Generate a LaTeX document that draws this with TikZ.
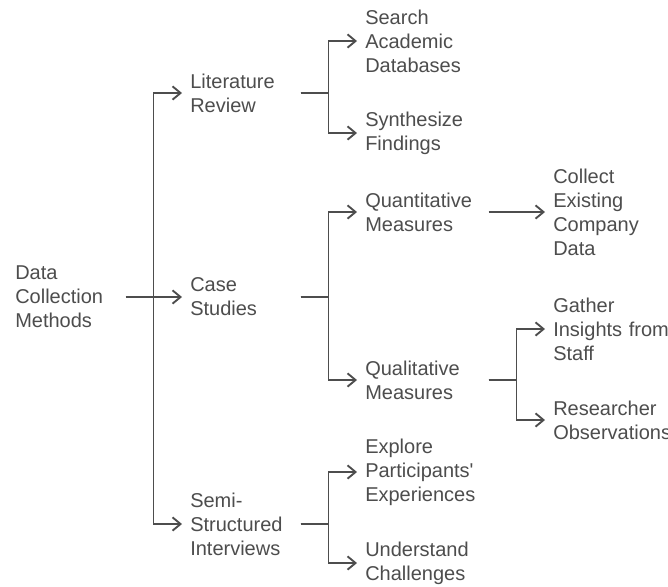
\documentclass[tikz,border=0pt]{standalone}
\usepackage{fontspec}
\setmainfont{Liberation Sans}
\usetikzlibrary{arrows.meta,calc}
\definecolor{ink}{HTML}{4D4D4D}

\begin{document}
\begin{tikzpicture}[x=0.75pt,y=-0.75pt,
		every node/.style={inner sep=0pt,anchor=west,align=left,text=ink,font=\fontsize{15}{18}\selectfont},
		rootnode/.style={text width=82.5pt},
		midnode/.style={text width=82.5pt},
		subnode/.style={text width=92.25pt},
		leafnode/.style={text width=100pt},
		link/.style={draw=ink,line width=1.4pt,-{Straight Barb[length=6pt,width=10pt,line width=1.4pt]},shorten >=6pt}]
	\useasboundingbox (0,0) rectangle (668,586);
	\clip (0,0) rectangle (668,586);
	\fill [white] (0,0) rectangle (668,586);
	% level 0
	\node [rootnode] (data) at (15,297) {Data\\Collection\\Methods};
	% level 1
	\node [midnode] (lit) at (190,93) {Literature\\Review};
	\node [midnode] (case) at (190,297) {Case\\Studies};
	\node [midnode] (semi) at (190,524) {Semi-\\Structured\\Interviews};
	% level 2
	\node [subnode] (search) at (365,41) {Search\\Academic\\Databases};
	\node [subnode] (synth) at (365,133) {Synthesize\\Findings};
	\node [subnode] (quant) at (365,212) {Quantitative\\Measures};
	\node [subnode] (qual) at (365,380) {Qualitative\\Measures};
	\node [subnode] (explore) at (365,472) {Explore\\Participants\textquotesingle\\Experiences};
	\node [subnode] (underst) at (365,563) {Understand\\Challenges};
	% level 3
	\node [leafnode] (collect) at (553,212) {Collect\\Existing\\Company\\Data};
	\node [leafnode] (gather) at (553,329) {Gather\\Insights from\\Staff};
	\node [leafnode] (observe) at (553,420) {Researcher\\Observations};
	% connectors
	\draw [link] (data.east) -- (case.west);
	\draw [link] ($(data.east)+(28,0)$) |- (lit.west);
	\draw [link] ($(data.east)+(28,0)$) |- (semi.west);
	\draw [link] (lit.east) -- ++(28,0) |- (search.west);
	\draw [link] (lit.east) -- ++(28,0) |- (synth.west);
	\draw [link] (case.east) -- ++(28,0) |- (quant.west);
	\draw [link] (case.east) -- ++(28,0) |- (qual.west);
	\draw [link] (semi.east) -- ++(28,0) |- (explore.west);
	\draw [link] (semi.east) -- ++(28,0) |- (underst.west);
	\draw [link] (quant.east) -- (collect.west);
	\draw [link] (qual.east) -- ++(28,0) |- (gather.west);
	\draw [link] (qual.east) -- ++(28,0) |- (observe.west);
\end{tikzpicture}
\end{document}
